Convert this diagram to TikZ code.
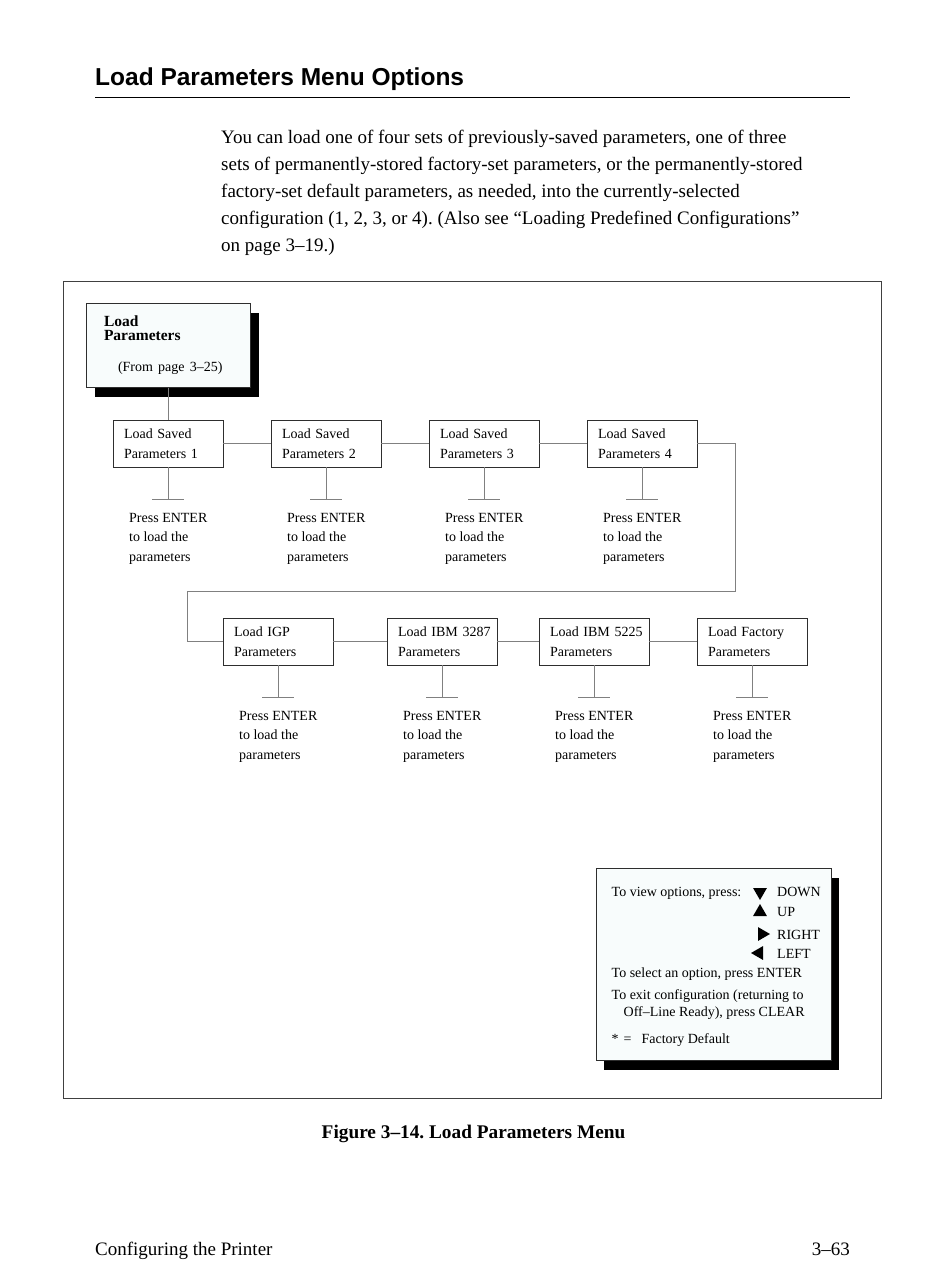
\documentclass[tikz,border=0pt]{standalone}
\usepackage{fontspec}
\setmainfont{Liberation Serif}
\newfontfamily\headfont{Liberation Sans}
\usetikzlibrary{positioning,calc,shadows,shapes.geometric}
\definecolor{menuedge}{HTML}{2E2E2E}
\definecolor{menuline}{HTML}{808080}
\definecolor{panel}{HTML}{F8FCFC}

\begin{document}
\frenchspacing
\begin{tikzpicture}[x=1pt, y=-1pt,
  opt/.style={draw=menuedge, line width=0.8pt, anchor=north west,
    outer sep=0pt, minimum width=110pt, minimum height=47pt,
    inner xsep=11pt, text width=88pt, align=left,
    font=\fontsize{14}{20}\selectfont},
  note/.style={anchor=north west, inner sep=0pt, align=left,
    font=\fontsize{14}{19.5}\selectfont},
  link/.style={draw=menuline, line width=0.8pt},
  panelbox/.style={draw=menuedge, line width=0.8pt, fill=panel,
    anchor=north west, outer sep=0pt},
  keytxt/.style={anchor=base west, inner sep=0pt,
    font=\fontsize{14}{16}\selectfont},
  tri/.style={regular polygon, regular polygon sides=3, fill=black,
    inner sep=0pt, minimum size=16pt}]
\fill[white] (0,0) rectangle (950,1267);
\useasboundingbox (0,0) rectangle (950,1267);

% page heading and text
\node[anchor=base west, inner sep=0pt,
  font=\headfont\bfseries\fontsize{24.5}{28}\selectfont] (title) at (95,85.5)
  {Load Parameters Menu Options};
\draw[line width=1.5pt] (95,97.5) -- (850,97.5);
\node[anchor=north west, inner sep=0pt, align=left,
  font=\fontsize{19}{27}\selectfont] (intro) at (221,130)
  {You can load one of four sets of previously-saved parameters, one of three\\
   sets of permanently-stored factory-set parameters, or the permanently-stored\\
   factory-set default parameters, as needed, into the currently-selected\\
   configuration (1, 2, 3, or 4). (Also see “Loading Predefined Configurations”\\
   on page 3–19.)};

% figure frame
\draw[draw=black!75, line width=0.9pt] (63,281) rectangle (881,1098);

% menu entry
\node[panelbox, minimum width=164pt, minimum height=84pt, inner xsep=18pt,
  text width=128pt, align=left, font=\fontsize{15.5}{14.5}\selectfont,
  drop shadow={shadow xshift=8.5pt, shadow yshift=-9.5pt, opacity=1, fill=black}]
  (load) at (86,303.5)
  {\begin{tabular}{@{}l@{}}
   \textbf{Load}\\
   \textbf{Parameters}\\[16pt]
   \hspace*{14pt}{\fontsize{14}{14.5}\selectfont (From page 3–25)}
   \end{tabular}};

% saved sets
\node[opt] (sav1) at (113,420) {Load Saved\\Parameters 1};
\node[opt, right=48pt of sav1] (sav2) {Load Saved\\Parameters 2};
\node[opt, right=48pt of sav2] (sav3) {Load Saved\\Parameters 3};
\node[opt, right=48pt of sav3] (sav4) {Load Saved\\Parameters 4};

% factory sets
\node[opt] (igp) at (223,618) {Load IGP\\Parameters};
\node[opt, right=54pt of igp] (ibma) {\mbox{Load IBM 3287}\\Parameters};
\node[opt, right=42pt of ibma] (ibmb) {\mbox{Load IBM 5225}\\Parameters};
\node[opt, right=48pt of ibmb] (fact) {Load Factory\\Parameters};

\draw[link] (sav1.north |- load.south) -- (sav1.north);
\draw[link] (sav1) -- (sav2);
\draw[link] (sav2) -- (sav3);
\draw[link] (sav3) -- (sav4);
\coordinate (wrapR) at (735,591);
\coordinate (wrapL) at (187,591);
\draw[link] (sav4.east) -| (wrapR) -- (wrapL) |- (igp.west);
\draw[link] (igp) -- (ibma);
\draw[link] (ibma) -- (ibmb);
\draw[link] (ibmb) -- (fact);

% enter stems
\draw[link] (sav1.south) -- ++(0,32) coordinate (bar1) ++(-16,0) -- ++(32,0);
\draw[link] (sav2.south) -- ++(0,32) coordinate (bar2) ++(-16,0) -- ++(32,0);
\draw[link] (sav3.south) -- ++(0,32) coordinate (bar3) ++(-16,0) -- ++(32,0);
\draw[link] (sav4.south) -- ++(0,32) coordinate (bar4) ++(-16,0) -- ++(32,0);
\draw[link] (igp.south) -- ++(0,32) coordinate (bar5) ++(-16,0) -- ++(32,0);
\draw[link] (ibma.south) -- ++(0,32) coordinate (bar6) ++(-16,0) -- ++(32,0);
\draw[link] (ibmb.south) -- ++(0,32) coordinate (bar7) ++(-16,0) -- ++(32,0);
\draw[link] (fact.south) -- ++(0,32) coordinate (bar8) ++(-16,0) -- ++(32,0);
\node[note] (press1) at ($(bar1)+(-39,13.7)$) {Press ENTER\\to load the\\parameters};
\node[note] (press2) at ($(bar2)+(-39,13.7)$) {Press ENTER\\to load the\\parameters};
\node[note] (press3) at ($(bar3)+(-39,13.7)$) {Press ENTER\\to load the\\parameters};
\node[note] (press4) at ($(bar4)+(-39,13.7)$) {Press ENTER\\to load the\\parameters};
\node[note] (press5) at ($(bar5)+(-39,13.7)$) {Press ENTER\\to load the\\parameters};
\node[note] (press6) at ($(bar6)+(-39,13.7)$) {Press ENTER\\to load the\\parameters};
\node[note] (press7) at ($(bar7)+(-39,13.7)$) {Press ENTER\\to load the\\parameters};
\node[note] (press8) at ($(bar8)+(-39,13.7)$) {Press ENTER\\to load the\\parameters};

% key panel
\node[panelbox, minimum width=235pt, minimum height=192pt,
  drop shadow={shadow xshift=7.5pt, shadow yshift=-9.5pt, opacity=1, fill=black}]
  (legend) at (596,868) {};
\node[keytxt] (view) at (611.5,896) {To view options, press:};
\node[tri, shape border rotate=180] (down) at (760,892) {};
\node[keytxt] (downlbl) at (777,896.5) {DOWN};
\node[tri] (up) at (760,912) {};
\node[keytxt] (uplbl) at (777,916) {UP};
\node[tri, shape border rotate=-90] (rgt) at (762,934) {};
\node[keytxt] (rgtlbl) at (777,939) {RIGHT};
\node[tri, shape border rotate=90] (lft) at (759,953) {};
\node[keytxt] (lftlbl) at (777,958) {LEFT};
\node[keytxt] (select) at (611.5,977) {To select an option, press ENTER};
\node[keytxt] (exit) at (611.5,999.5) {To exit configuration (returning to};
\node[keytxt] (exitb) at (623.5,1016) {Off–Line Ready), press CLEAR};
\node[keytxt] (dflt) at (611.5,1043) {*\hspace{5pt}=\hspace{10pt}Factory Default};

% caption and footer
\node[anchor=base, inner sep=0pt, font=\bfseries\fontsize{19.3}{23}\selectfont]
  (caption) at (473.5,1138.5) {Figure 3–14. Load Parameters Menu};
\node[anchor=base west, inner sep=0pt, font=\fontsize{19}{23}\selectfont]
  (chapter) at (95,1255.5) {Configuring the Printer};
\node[anchor=base east, inner sep=0pt, font=\fontsize{19}{23}\selectfont]
  (pageno) at (850,1255.5) {3–63};
\end{tikzpicture}
\end{document}
